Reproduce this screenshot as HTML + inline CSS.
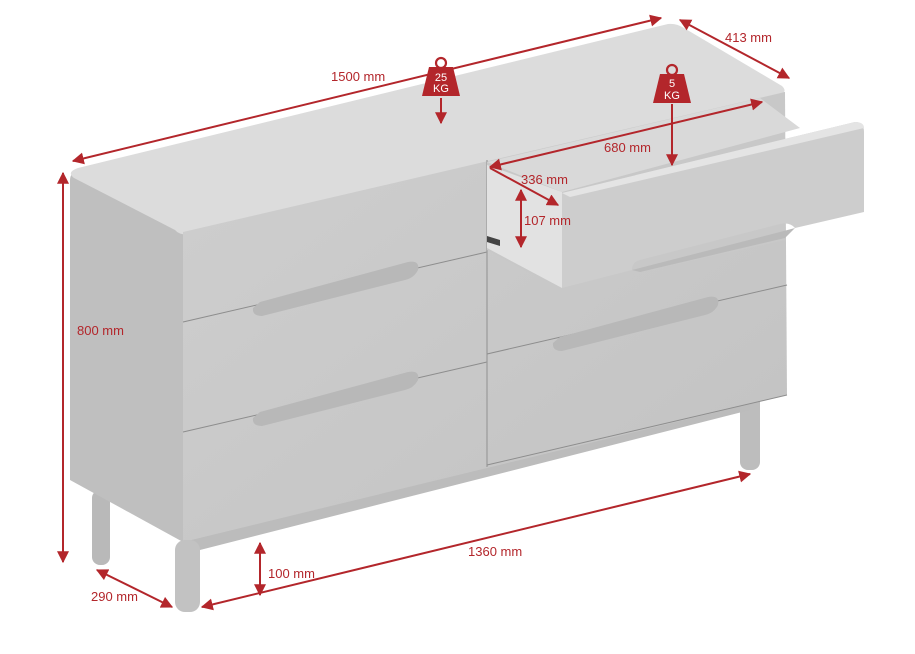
<!DOCTYPE html>
<html><head><meta charset="utf-8"><style>
html,body{margin:0;padding:0;background:#fff;}
svg{display:block;}
text{font-family:"Liberation Sans",sans-serif;font-size:13px;fill:#b3262b;}
</style></head><body>
<svg width="915" height="654" viewBox="0 0 915 654" xmlns="http://www.w3.org/2000/svg">
<defs>
<marker id="a" viewBox="0 0 10 10" refX="9" refY="5" markerWidth="6" markerHeight="6" orient="auto-start-reverse"><path d="M0,0L10,5L0,10z" fill="#b3262b"/></marker>
<linearGradient id="fr" x1="0" y1="0" x2="1" y2="1"><stop offset="0" stop-color="#cfcfcf"/><stop offset="1" stop-color="#c2c2c2"/></linearGradient>
</defs>
<rect x="92" y="490" width="18" height="75" rx="8" fill="#b9b9b9"/>
<rect x="740" y="392" width="20" height="78" rx="8" fill="#bdbdbd"/>
<polygon points="183,540 750,400 750,410 200,550 183,548" fill="#bcbcbc"/>
<path d="M70,180 Q70,172 80,170 L183,232 L183,542 L70,480 Z" fill="#bfbfbf"/>
<path d="M78,168 L668,24 Q676,23 684,28 L782,86 Q788,92 780,95 L192,234 Q180,236 175,230 L74,178 Q66,172 78,168Z" fill="#dcdcdc"/>
<polygon points="183,232 785,92 787,395 183,542" fill="url(#fr)"/>
<polyline points="183,322 487,252" fill="none" stroke="#8d8d8d" stroke-width="1"/>
<polyline points="183,432 487,362" fill="none" stroke="#8d8d8d" stroke-width="1"/>
<line x1="487" y1="160" x2="487" y2="467" stroke="#9a9a9a" stroke-width="1.2"/>
<polyline points="487,354 787,285" fill="none" stroke="#8d8d8d" stroke-width="1"/>
<polyline points="487,465 787,395" fill="none" stroke="#8d8d8d" stroke-width="1"/>
<path d="M260,302 L408,262 Q420,260 418,270 Q414,278 405,280 L262,316 Q252,316 253,308Z" fill="#b8b8b8"/>
<path d="M260,412 L408,372 Q420,370 418,380 Q414,388 405,390 L262,426 Q252,426 253,418Z" fill="#b8b8b8"/>
<path d="M560,337 L708,297 Q720,295 718,305 Q714,313 705,315 L562,351 Q552,351 553,343Z" fill="#b8b8b8"/>
<polygon points="487,162 768,97 785,92 785,240 562,290 487,250" fill="#c8c8c8"/>
<polygon points="487,162 760,98 800,128 562,192" fill="#d9d9d9"/>
<polygon points="487,165 562,192 562,288 487,248" fill="#e2e2e2"/>
<polygon points="487,236 500,240 500,246 487,242" fill="#444"/>
<path d="M562,193 L855,122 Q864,122 864,132 L864,212 L795,228 Q790,222 780,224 L640,260 Q632,262 632,270 L562,288 Z" fill="#cdcdcd"/>
<path d="M562,193 L855,122 Q864,122 864,128 L570,197Z" fill="#e4e4e4"/>
<path d="M632,270 L780,232 L795,228 L785,238 L640,272Z" fill="#bababa"/>
<rect x="175" y="540" width="25" height="72" rx="10" fill="#c2c2c2"/>
<g stroke="#b3262b" stroke-width="2" fill="none">
<line x1="73" y1="161" x2="661" y2="18" marker-start="url(#a)" marker-end="url(#a)"/>
<line x1="680" y1="20" x2="789" y2="78" marker-start="url(#a)" marker-end="url(#a)"/>
<line x1="63" y1="173" x2="63" y2="562" marker-start="url(#a)" marker-end="url(#a)"/>
<line x1="97" y1="570" x2="172" y2="607" marker-start="url(#a)" marker-end="url(#a)"/>
<line x1="202" y1="607" x2="750" y2="474" marker-start="url(#a)" marker-end="url(#a)"/>
<line x1="260" y1="543" x2="260" y2="595" marker-start="url(#a)" marker-end="url(#a)"/>
<line x1="490" y1="167" x2="762" y2="102" marker-start="url(#a)" marker-end="url(#a)"/>
<line x1="490" y1="168" x2="558" y2="205" marker-end="url(#a)"/>
<line x1="521" y1="190" x2="521" y2="247" marker-start="url(#a)" marker-end="url(#a)"/>
<line x1="672" y1="104" x2="672" y2="165" marker-end="url(#a)"/>
<line x1="441" y1="98" x2="441" y2="123" marker-end="url(#a)"/>
</g>
<g fill="#b3262b">
<circle cx="441" cy="63" r="5" fill="none" stroke="#b3262b" stroke-width="2.2"/>
<path d="M429,67 L453,67 L460,96 L422,96Z"/>
<circle cx="672" cy="70" r="5" fill="none" stroke="#b3262b" stroke-width="2.2"/>
<path d="M660,74 L684,74 L691,103 L653,103Z"/>
</g>
<text x="441" y="81" text-anchor="middle" style="fill:#fff;font-size:11px">25</text>
<text x="441" y="92" text-anchor="middle" style="fill:#fff;font-size:11px">KG</text>
<text x="672" y="87" text-anchor="middle" style="fill:#fff;font-size:11px">5</text>
<text x="672" y="99" text-anchor="middle" style="fill:#fff;font-size:11px">KG</text>
<text x="331" y="81">1500 mm</text>
<text x="725" y="42">413 mm</text>
<text x="77" y="335">800 mm</text>
<text x="91" y="601">290 mm</text>
<text x="468" y="556">1360 mm</text>
<text x="268" y="578">100 mm</text>
<text x="604" y="152">680 mm</text>
<text x="521" y="184">336 mm</text>
<text x="524" y="225">107 mm</text>
</svg>
</body></html>
